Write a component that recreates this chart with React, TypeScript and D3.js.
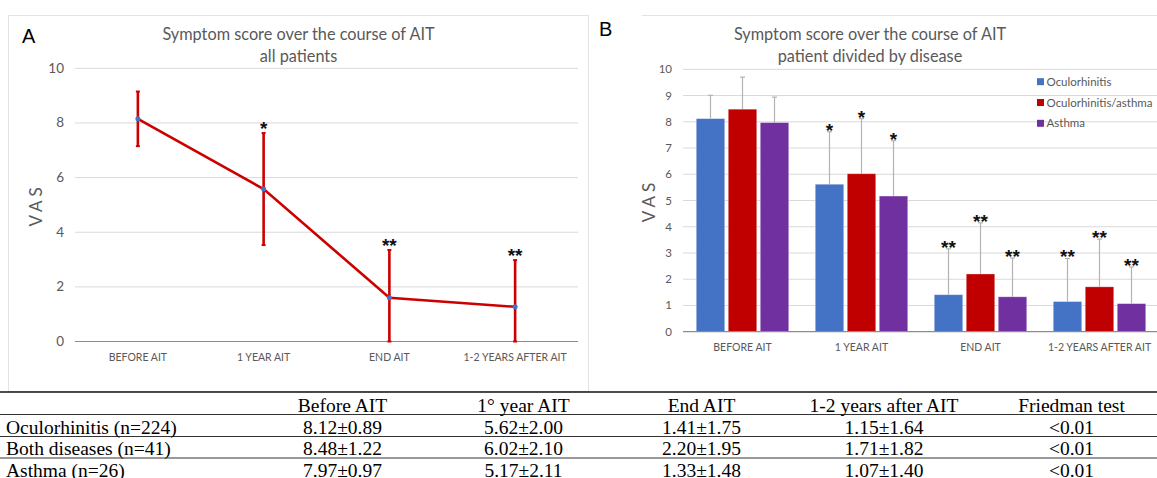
import React from "react";
import * as d3 from "d3";

const categories = ["BEFORE AIT", "1 YEAR AIT", "END AIT", "1-2 YEARS AFTER AIT"];

// Panel A: all patients
const allMeans = [8.15, 5.58, 1.6, 1.27];
const allSD = [1.0, 2.05, 1.75, 1.71];
const allStars = ["", "*", "**", "**"];

// Panel B: by disease
const seriesNames = ["Oculorhinitis", "Oculorhinitis/asthma", "Asthma"];
const seriesColors = ["#4472C4", "#C00000", "#7030A0"];
const oculoMeans = [8.12, 5.62, 1.41, 1.15];
const oculoSD = [0.89, 2.0, 1.75, 1.64];
const bothMeans = [8.48, 6.02, 2.2, 1.71];
const bothSD = [1.22, 2.1, 1.95, 1.82];
const asthmaMeans = [7.97, 5.17, 1.33, 1.07];
const asthmaSD = [0.97, 2.11, 1.48, 1.4];
const groupStars = ["", "*", "**", "**"];

const yTicksA = [0, 2, 4, 6, 8, 10];
const yTicksB = [0, 1, 2, 3, 4, 5, 6, 7, 8, 9, 10];

// Table
const tableHeader = ["", "Before AIT", "1° year AIT", "End AIT", "1-2 years after AIT", "Friedman test"];
const tableRowLabels = ["Oculorhinitis (n=224)", "Both diseases (n=41)", "Asthma (n=26)"];
const friedman = ["<0.01", "<0.01", "<0.01"];

const W = 1157;
const H = 478;
const TXT = "#595959";
const GRID = "#d9d9d9";
const FONT = "Lato, 'Open Sans', sans-serif";
const SERIF = "'Liberation Serif', 'Times New Roman', serif";
const STARFONT = "'Liberation Sans', Arial, sans-serif";

export default function App() {
  // Panel A scales
  const xA = d3.scaleBand<string>().domain(categories).range([75, 578]);
  const yA = d3.scaleLinear().domain([0, 10]).range([341.5, 68.3]);
  const lineA = d3
    .line<number>()
    .x((_, i) => (xA(categories[i]) as number) + xA.bandwidth() / 2)
    .y((d) => yA(d));

  // Panel B scales
  const p = 0.2227;
  const xB = d3.scaleBand<string>().domain(categories).range([683, 1159]).paddingInner(p).paddingOuter(p / 2);
  const xB1 = d3.scaleBand<string>().domain(seriesNames).range([0, xB.bandwidth()]).paddingInner(0.11);
  const yB = d3.scaleLinear().domain([0, 10]).range([331.7, 69.3]);
  const seriesMeans = [oculoMeans, bothMeans, asthmaMeans];
  const seriesSD = [oculoSD, bothSD, asthmaSD];

  const colX = [0, 342.5, 523.5, 701.5, 884, 1071.5];
  const rowBase = [411.5, 433.5, 455, 476.5];
  const lineYs = [392, 414.5, 436.5, 458];
  const TFS = 19.5;

  return (
    <svg
      width={W}
      height={H}
      viewBox={`0 0 ${W} ${H}`}
      style={{ position: "absolute", left: 0, top: 0, background: "#fff" }}
    >
      <rect x={0} y={0} width={W} height={H} fill="#fff" />

      {/* Panel frames */}
      <rect x={8.5} y={15.5} width={580} height={376} fill="none" stroke="#e3e3e3" strokeWidth={1} />
      <line x1={642} x2={W} y1={15.5} y2={15.5} stroke="#e3e3e3" strokeWidth={1} />

      {/* ===== Panel A ===== */}
      <text x={22} y={43} fontFamily="Liberation Sans, Arial, sans-serif" fontSize={20} fill="#000">A</text>
      <text x={298.5} y={40} textAnchor="middle" fontFamily={FONT} fontSize={16.3} fill={TXT}>
        Symptom score over the course of AIT
      </text>
      <text x={298.5} y={62} textAnchor="middle" fontFamily={FONT} fontSize={16.3} fill={TXT}>
        all patients
      </text>
      {yTicksA.map((t) => (
        <g key={"ga" + t}>
          {t !== 0 && (
            <line x1={75} x2={578} y1={yA(t)} y2={yA(t)} stroke={GRID} strokeWidth={1} />
          )}
          <text x={64} y={yA(t) + 4.5} textAnchor="end" fontFamily={FONT} fontSize={13.5} fill={TXT}>
            {t}
          </text>
        </g>
      ))}
      <line x1={75} x2={578} y1={yA(0)} y2={yA(0)} stroke="#8c8c8c" strokeWidth={1.2} />
      {categories.map((c) => (
        <text
          key={"xa" + c}
          x={(xA(c) as number) + xA.bandwidth() / 2}
          y={361}
          textAnchor="middle"
          fontFamily={FONT}
          fontSize={10.5}
          fill={TXT}
        >
          {c}
        </text>
      ))}
      <text
        transform={`translate(42,${yA(5)}) rotate(-90)`}
        textAnchor="middle"
        fontFamily={FONT}
        fontSize={17}
        fill={TXT}
        letterSpacing={4}
      >
        VAS
      </text>
      {/* error bars A */}
      {allMeans.map((m, i) => {
        const cx = (xA(categories[i]) as number) + xA.bandwidth() / 2;
        const hi = yA(Math.min(10, m + allSD[i]));
        const lo = yA(Math.max(0, m - allSD[i]));
        return (
          <g key={"ea" + i}>
            <line x1={cx} x2={cx} y1={hi} y2={lo} stroke="#CC0000" strokeWidth={2.6} />
            <line x1={cx - 2} x2={cx + 2} y1={hi} y2={hi} stroke="#CC0000" strokeWidth={2} />
            <line x1={cx - 2} x2={cx + 2} y1={lo} y2={lo} stroke="#CC0000" strokeWidth={2} />
            {allStars[i] && (
              <text
                x={cx}
                y={hi + 2}
                textAnchor="middle"
                fontFamily={STARFONT}
                fontWeight="bold"
                fontSize={19}
                fill="#111"
              >
                {allStars[i]}
              </text>
            )}
          </g>
        );
      })}
      <path d={lineA(allMeans) as string} fill="none" stroke="#CC0000" strokeWidth={2.6} />
      {allMeans.map((m, i) => (
        <circle
          key={"pa" + i}
          cx={(xA(categories[i]) as number) + xA.bandwidth() / 2}
          cy={yA(m)}
          r={2.5}
          fill="#4472C4"
        />
      ))}

      {/* ===== Panel B ===== */}
      <text x={599} y={36} fontFamily="Liberation Sans, Arial, sans-serif" fontSize={20} fill="#000">B</text>
      <text x={870} y={40} textAnchor="middle" fontFamily={FONT} fontSize={16.3} fill={TXT}>
        Symptom score over the course of AIT
      </text>
      <text x={870} y={62} textAnchor="middle" fontFamily={FONT} fontSize={16.3} fill={TXT}>
        patient divided by disease
      </text>
      {yTicksB.map((t) => (
        <g key={"gb" + t}>
          {t !== 0 && (
            <line x1={683} x2={1157} y1={yB(t)} y2={yB(t)} stroke={GRID} strokeWidth={1} />
          )}
          <text x={672} y={yB(t) + 4} textAnchor="end" fontFamily={FONT} fontSize={11.5} fill={TXT}>
            {t}
          </text>
        </g>
      ))}
      <text
        transform={`translate(655,${yB(5)}) rotate(-90)`}
        textAnchor="middle"
        fontFamily={FONT}
        fontSize={17}
        fill={TXT}
        letterSpacing={4}
      >
        VAS
      </text>
      {categories.map((c, ci) => (
        <g key={"gbx" + c} transform={`translate(${xB(c)},0)`}>
          {seriesNames.map((s, si) => {
            const m = seriesMeans[si][ci];
            const sd = seriesSD[si][ci];
            const bx = xB1(s) as number;
            const bw = xB1.bandwidth();
            const cx = bx + bw / 2;
            const top = yB(m + sd);
            return (
              <g key={s}>
                <line x1={cx} x2={cx} y1={top} y2={yB(m)} stroke="#b3b3b3" strokeWidth={1.2} />
                <line x1={cx - 2.5} x2={cx + 2.5} y1={top} y2={top} stroke="#b3b3b3" strokeWidth={1.2} />
                <rect
                  x={bx}
                  y={yB(m)}
                  width={bw}
                  height={yB(0) - yB(m)}
                  fill={seriesColors[si]}
                  stroke="#ffffff"
                  strokeOpacity={0.4}
                  strokeWidth={0.8}
                />
                {groupStars[ci] && (
                  <text
                    x={cx}
                    y={top + 5}
                    textAnchor="middle"
                    fontFamily={STARFONT}
                    fontWeight="bold"
                    fontSize={19}
                    fill="#111"
                  >
                    {groupStars[ci]}
                  </text>
                )}
              </g>
            );
          })}
          <text
            x={xB.bandwidth() / 2}
            y={350.5}
            textAnchor="middle"
            fontFamily={FONT}
            fontSize={10.5}
            fill={TXT}
          >
            {c}
          </text>
        </g>
      ))}
      <line x1={683} x2={1157} y1={yB(0)} y2={yB(0)} stroke="#8c8c8c" strokeWidth={1.2} />
      {/* legend */}
      {seriesNames.map((s, i) => (
        <g key={"lg" + s} transform={`translate(1037,${81.7 + i * 20.8})`}>
          <rect x={0} y={-3.5} width={7} height={7} fill={seriesColors[i]} />
          <text x={9.5} y={4} fontFamily={FONT} fontSize={11.5} fill={TXT}>
            {s}
          </text>
        </g>
      ))}

      {/* ===== Table ===== */}
      {lineYs.map((ly, i) => (
        <line
          key={"tl" + i}
          x1={0}
          x2={W}
          y1={ly}
          y2={ly}
          stroke={i === 0 ? "#111" : "#333"}
          strokeWidth={i === 0 ? 1.6 : 1}
        />
      ))}
      {tableHeader.map((h, j) =>
        j === 0 ? null : (
          <text
            key={"th" + j}
            x={colX[j]}
            y={rowBase[0]}
            textAnchor="middle"
            fontFamily={SERIF}
            fontSize={TFS}
            fill="#000"
          >
            {h}
          </text>
        )
      )}
      {tableRowLabels.map((lab, r) => {
        const vals = [
          `${seriesMeans[r][0].toFixed(2)}±${seriesSD[r][0].toFixed(2)}`,
          `${seriesMeans[r][1].toFixed(2)}±${seriesSD[r][1].toFixed(2)}`,
          `${seriesMeans[r][2].toFixed(2)}±${seriesSD[r][2].toFixed(2)}`,
          `${seriesMeans[r][3].toFixed(2)}±${seriesSD[r][3].toFixed(2)}`,
          friedman[r],
        ];
        return (
          <g key={"tr" + r}>
            <text x={6} y={rowBase[r + 1]} fontFamily={SERIF} fontSize={TFS} fill="#000">
              {lab}
            </text>
            {vals.map((v, j) => (
              <text
                key={"td" + j}
                x={colX[j + 1]}
                y={rowBase[r + 1]}
                textAnchor="middle"
                fontFamily={SERIF}
                fontSize={TFS}
                fill="#000"
              >
                {v}
              </text>
            ))}
          </g>
        );
      })}
    </svg>
  );
}
